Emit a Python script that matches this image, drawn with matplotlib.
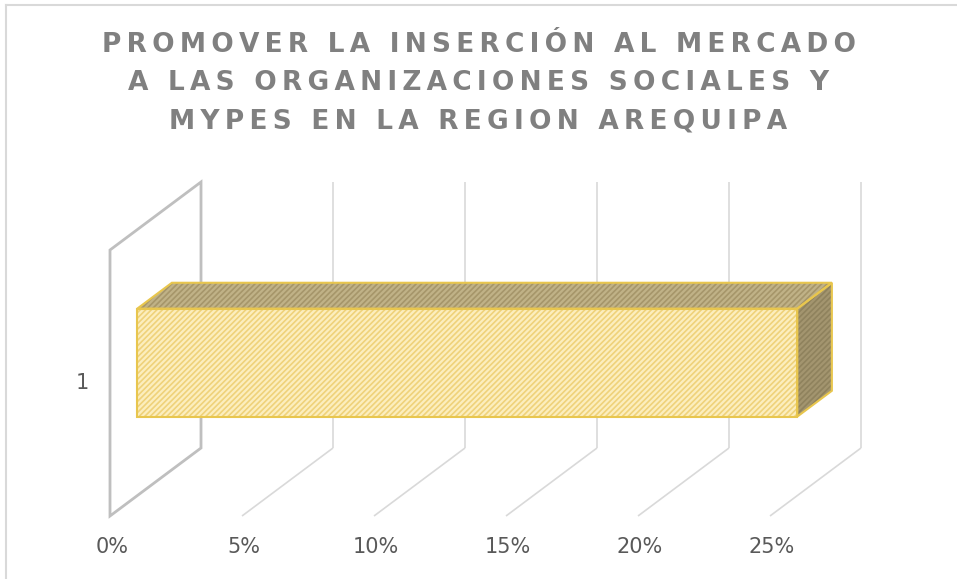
import matplotlib
matplotlib.use("Agg")
import matplotlib.pyplot as plt
from matplotlib.patches import Polygon

# Chart data
TITLE_LINES = [
    "PROMOVER LA INSERCIÓN AL MERCADO",
    "A LAS ORGANIZACIONES SOCIALES Y",
    "MYPES EN LA REGION AREQUIPA",
]
CATEGORIES = ["1"]
VALUES = [25]                      # percent
TICKS = [0, 5, 10, 15, 20, 25]
TICK_LABELS = ["0%", "5%", "10%", "15%", "20%", "25%"]

# Oblique 3D projection settings (pixels)
W, H = 957, 579
X0_PX = 110          # front-plane 0% position
PX_PER_PCT = 26.4
CAT_Y_PX = 383       # front-plane center of category 1 (from top)
PX_PER_CAT = 266
DEPTH_DX_PX = 91
DEPTH_DY_PX = 68
DX = DEPTH_DX_PX / PX_PER_PCT
DY = DEPTH_DY_PX / PX_PER_CAT

BAR_WIDTH = 0.406
BAR_D0, BAR_D1 = 0.30, 0.68

WALL_COLOR = "#BFBFBF"
GRID_COLOR = "#D9D9D9"
EDGE_GOLD = "#E8C64E"
TEXT_GRAY = "#595959"
TITLE_GRAY = "#808080"

plt.rcParams["hatch.linewidth"] = 1.2


def proj(v, c, d):
    """Map (value, category, depth) to 2D data coordinates."""
    return v + d * DX, c + d * DY


def line3d(ax, p0, p1, **kw):
    a = proj(*p0)
    b = proj(*p1)
    ax.plot([a[0], b[0]], [a[1], b[1]], solid_capstyle="butt", **kw)


def face(ax, pts, fc, hc, z):
    xy = [proj(*p) for p in pts]
    ax.add_patch(Polygon(xy, closed=True, facecolor=fc, edgecolor=hc,
                         hatch="//////", linewidth=0, zorder=z))
    ax.add_patch(Polygon(xy, closed=True, fill=False, edgecolor=EDGE_GOLD,
                         linewidth=1.5, joinstyle="miter", zorder=z + 0.5))


fig = plt.figure(figsize=(W / 100, H / 100), dpi=100, facecolor="white")
ax = fig.add_axes([0, 0, 1, 1])
ax.set_xlim(-X0_PX / PX_PER_PCT, (W - X0_PX) / PX_PER_PCT)
ax.set_ylim(1 - (H - CAT_Y_PX) / PX_PER_CAT, 1 + CAT_Y_PX / PX_PER_CAT)
ax.axis("off")

n_cat = len(CATEGORIES)
c_lo, c_hi = 0.5, n_cat + 0.5

# Back gridlines and floor lines
for t in TICKS[1:]:
    line3d(ax, (t, c_lo, 1), (t, c_hi, 1), color=GRID_COLOR, lw=1.2, zorder=1)
    line3d(ax, (t, c_lo, 0), (t, c_lo, 1), color=GRID_COLOR, lw=1.2, zorder=1)

# Side wall at 0%
wall = [proj(0, c_lo, 0), proj(0, c_hi, 0), proj(0, c_hi, 1), proj(0, c_lo, 1)]
ax.add_patch(Polygon(wall, closed=True, fill=False, edgecolor=WALL_COLOR,
                     linewidth=2, zorder=2))

# 3D bars
for i, (cat, val) in enumerate(zip(CATEGORIES, VALUES)):
    c = i + 1
    b0, b1 = c - BAR_WIDTH / 2, c + BAR_WIDTH / 2
    face(ax, [(0, b1, BAR_D0), (val, b1, BAR_D0), (val, b1, BAR_D1), (0, b1, BAR_D1)],
         "#C0B287", "#A6966A", 3)
    face(ax, [(val, b0, BAR_D0), (val, b1, BAR_D0), (val, b1, BAR_D1), (val, b0, BAR_D1)],
         "#A3956F", "#8F825D", 3)
    face(ax, [(0, b0, BAR_D0), (val, b0, BAR_D0), (val, b1, BAR_D0), (0, b1, BAR_D0)],
         "#FCEEBE", "#EFD27A", 4)
    ax.annotate(cat, xy=(0, c), xytext=(-28, 0), textcoords="offset pixels",
                ha="center", va="center", fontsize=15, color=TEXT_GRAY)

# Value axis labels
for t, lab in zip(TICKS, TICK_LABELS):
    ax.annotate(lab, xy=(t, c_lo), xytext=(2, -31), textcoords="offset pixels",
                ha="center", va="center", fontsize=15, color=TEXT_GRAY)

# Title with wide letter spacing
for k, line in enumerate(TITLE_LINES):
    spaced = "\u2009".join(line)
    baseline_px = 52 + 38 * k
    fig.text(0.5, 1 - baseline_px / H, spaced, ha="center", va="baseline",
             fontsize=19, fontweight="bold", color=TITLE_GRAY)

# Chart area border
fig.add_artist(plt.Line2D([6 / W, 1], [1 - 5 / H, 1 - 5 / H],
                          transform=fig.transFigure, color=GRID_COLOR, lw=1.5))
fig.add_artist(plt.Line2D([6 / W, 6 / W], [0, 1 - 5 / H],
                          transform=fig.transFigure, color=GRID_COLOR, lw=1.5))

fig.savefig("out.png", dpi=100, facecolor="white")
